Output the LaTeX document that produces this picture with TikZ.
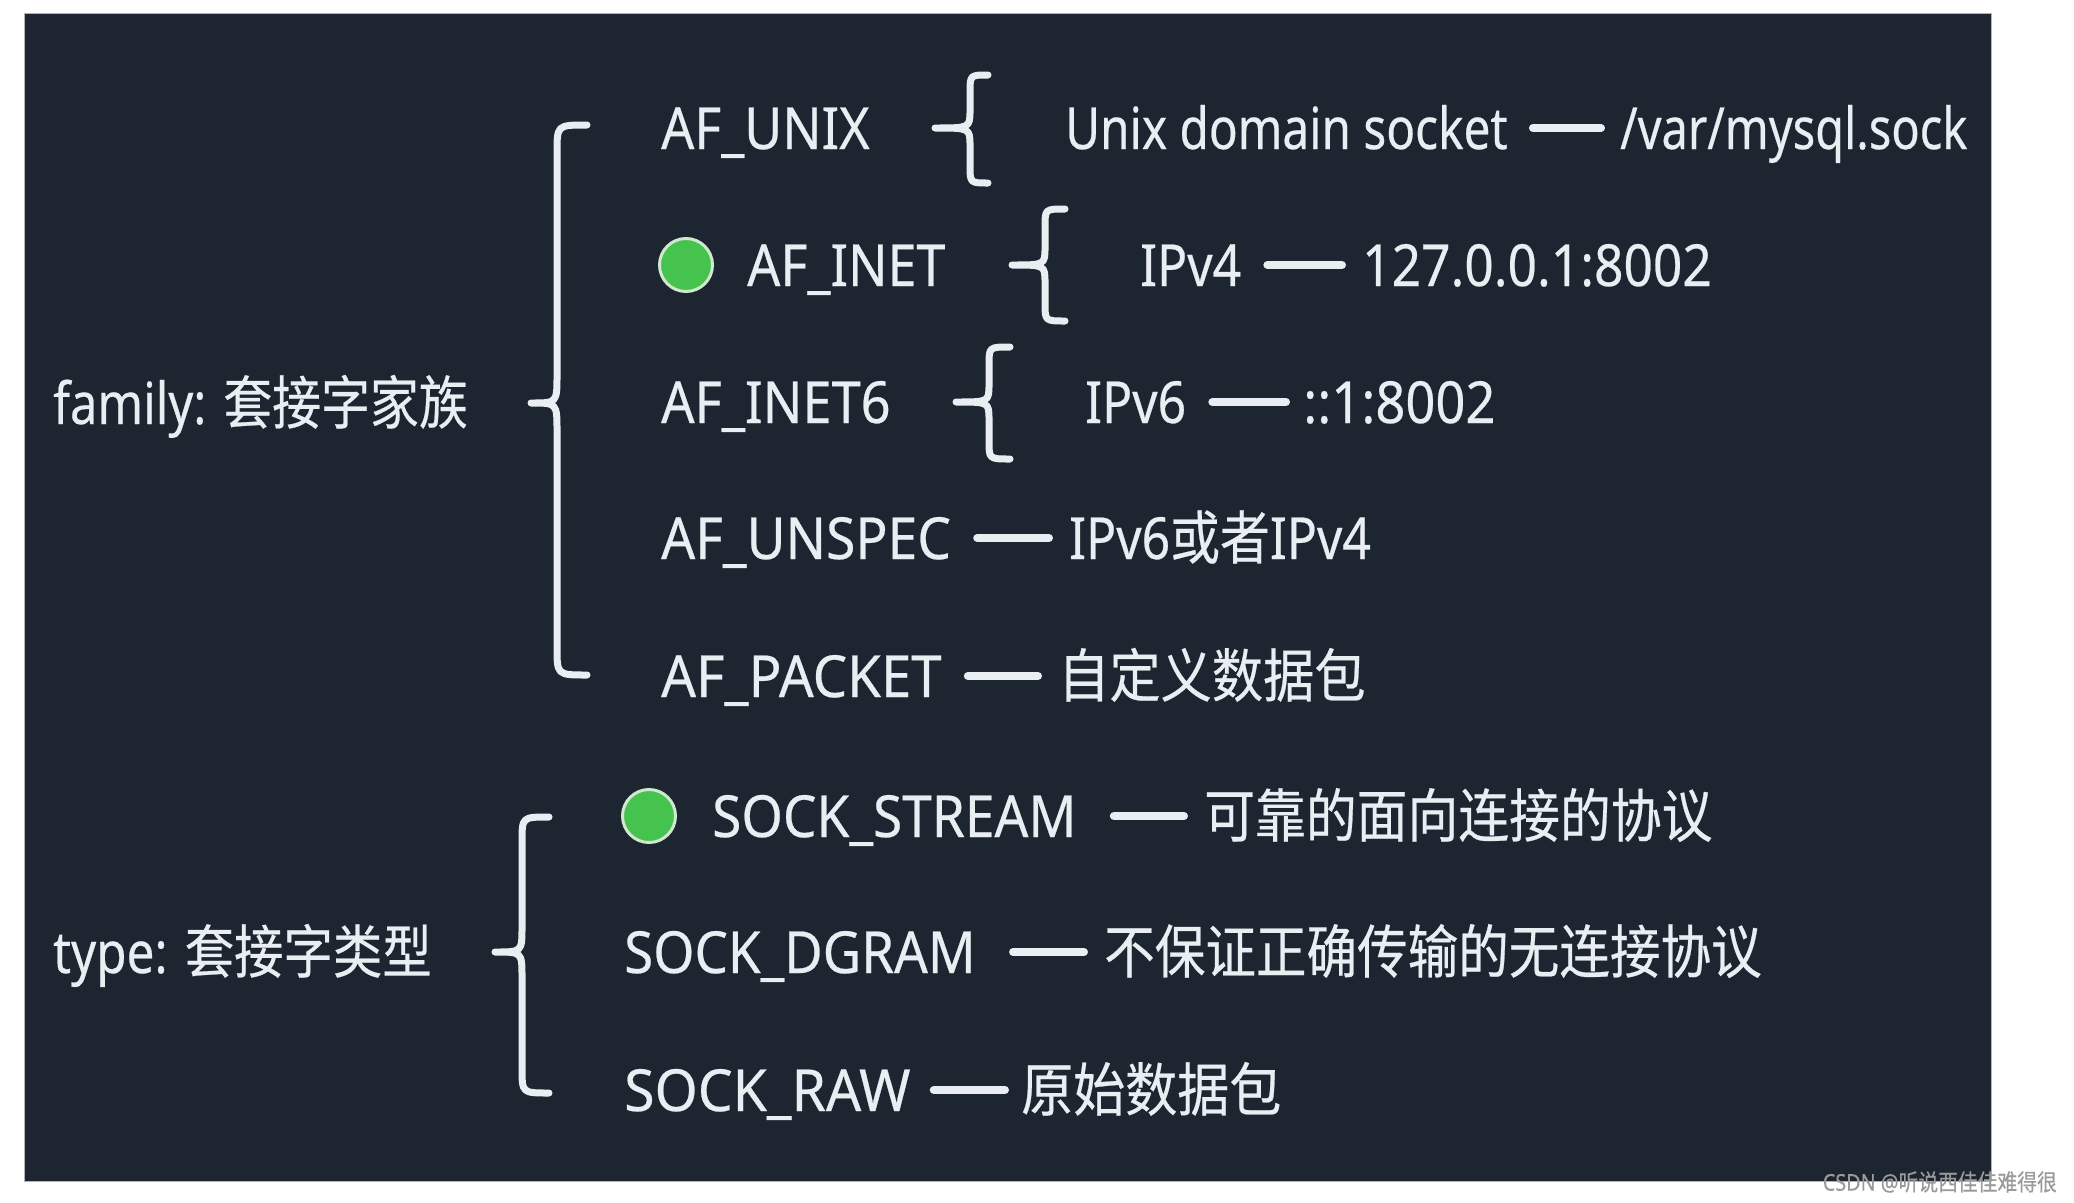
\documentclass[tikz,border=0pt]{standalone}
\usepackage{graphicx}
\usepackage{fontspec}
\setmainfont[FakeStretch=0.86,FakeBold=0.4]{Noto Sans}
\newfontfamily\cjk[FakeStretch=0.86,FakeBold=0.4]{Noto Sans CJK SC}
\definecolor{bg}{HTML}{1D2630}
\definecolor{fg}{HTML}{E8EEF2}
\definecolor{dot}{HTML}{46C24E}
\definecolor{dotrim}{HTML}{CFE8CF}
\definecolor{wm}{HTML}{9A9A9A}
\newcommand\sx[2]{\scalebox{#1}[1]{#2}}
\newcommand\mybrace[7]{%
 \draw[bracestyle] (#3,#4) .. controls (#2,#4) .. (#2,#4+#7) -- (#2,#5-#7)
   .. controls (#2,#5) .. (#1,#5) .. controls (#2,#5) .. (#2,#5+#7)
   -- (#2,#6-#7) .. controls (#2,#6) .. (#3,#6);}
\begin{document}
\begin{tikzpicture}[x=1pt,y=-1pt,
 lbl/.style={anchor=west, inner sep=0pt, text=fg, font=\fontsize{58}{60}\selectfont, text height=54pt, text depth=12pt},
 dashline/.style={draw=fg, line width=8pt, line cap=round},
 bracestyle/.style={draw=fg, line width=7pt, line cap=round, line join=round},
 dotstyle/.style={circle, fill=dot, draw=dotrim, line width=3pt, minimum size=53pt, inner sep=0pt}]
\useasboundingbox (0,0) rectangle (2074,1202);
\fill[white] (0,0) rectangle (2074,1202);
\draw[fill=bg, draw=gray!60, line width=1pt] (24,13) rectangle (1991,1181);

\node[lbl] (family) at (53,403) {\sx{0.98}{family: {\cjk 套接字家族}}};
\node[lbl] (unix) at (661,128) {\sx{1.04}{AF\_UNIX}};
\node[lbl] (unixd) at (1065,128) {\sx{0.957}{Unix domain socket}};
\node[lbl] (unixp) at (1620,128) {\sx{0.942}{/var/mysql.sock}};
\node[dotstyle] (dot1) at (686,265) {};
\node[lbl] (inet) at (747,265) {\sx{1.042}{AF\_INET}};
\node[lbl] (ipv4) at (1140,265) {IPv4};
\node[lbl] (ipv4a) at (1362,265) {\sx{1.032}{127.0.0.1:8002}};
\node[lbl] (inet6) at (661,402) {\sx{1.049}{AF\_INET6}};
\node[lbl] (ipv6) at (1085,402) {IPv6};
\node[lbl] (ipv6a) at (1303,402) {\sx{1.052}{::1:8002}};
\node[lbl] (unspec) at (661,538) {\sx{1.069}{AF\_UNSPEC}};
\node[lbl] (unspecd) at (1069,538) {IPv6{\cjk 或者}IPv4};
\node[lbl] (packet) at (661,676) {\sx{1.094}{AF\_PACKET}};
\node[lbl] (packetd) at (1058,676) {\sx{1.027}{\cjk 自定义数据包}};
\node[lbl] (type) at (53,952) {\sx{0.99}{type: {\cjk 套接字类型}}};
\node[dotstyle] (dot2) at (649,816) {};
\node[lbl] (stream) at (712,816) {\sx{1.066}{SOCK\_STREAM}};
\node[lbl] (streamd) at (1204,816) {\sx{1.019}{\cjk 可靠的面向连接的协议}};
\node[lbl] (dgram) at (624,952) {\sx{1.06}{SOCK\_DGRAM}};
\node[lbl] (dgramd) at (1104,952) {\sx{1.014}{\cjk 不保证正确传输的无连接协议}};
\node[lbl] (raw) at (624,1090) {\sx{1.109}{SOCK\_RAW}};
\node[lbl] (rawd) at (1021,1090) {\sx{1.043}{\cjk 原始数据包}};
\node[anchor=east, inner sep=0pt, text=wm, font=\fontsize{23}{25}\selectfont] (wm) at (2057,1182) {CSDN @{\cjk 听说西佳佳难得很}};

\draw[dashline] ([xshift=25pt]unixd.east) -- ([xshift=-19pt]unixp.west);
\draw[dashline] ([xshift=26pt]ipv4.east) -- ([xshift=-20pt]ipv4a.west);
\draw[dashline] ([xshift=26pt]ipv6.east) -- ([xshift=-17pt]ipv6a.west);
\draw[dashline] ([xshift=26pt]unspec.east) -- ([xshift=-20pt]unspecd.west);
\draw[dashline] ([xshift=26pt]packet.east) -- ([xshift=-20pt]packetd.west);
\draw[dashline] ([xshift=37pt]stream.east) -- ([xshift=-20pt]streamd.west);
\draw[dashline] ([xshift=37pt]dgram.east) -- ([xshift=-20pt]dgramd.west);
\draw[dashline] ([xshift=23pt]raw.east) -- ([xshift=-16pt]rawd.west);

\mybrace{531}{557}{587}{125}{403}{675}{28}
\mybrace{935}{970}{988}{75}{128}{183}{18}
\mybrace{1012}{1045}{1065}{209}{265}{321}{18}
\mybrace{956}{989}{1010}{347}{402}{459}{18}
\mybrace{495}{522}{549}{817}{952}{1093}{25}
\end{tikzpicture}
\end{document}
